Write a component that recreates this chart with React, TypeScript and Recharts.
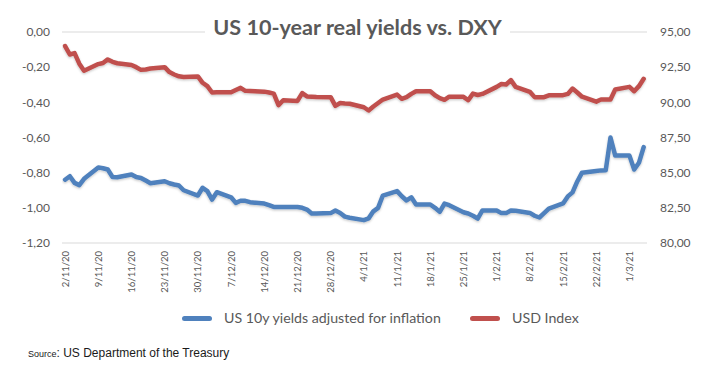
import React from 'react';
import { LineChart, Line, XAxis, YAxis, CartesianGrid } from 'recharts';

const dates = [
  '2/11/20', '3/11/20', '4/11/20', '5/11/20', '6/11/20',
  '9/11/20', '10/11/20', '11/11/20', '12/11/20', '13/11/20',
  '16/11/20', '17/11/20', '18/11/20', '19/11/20', '20/11/20',
  '23/11/20', '24/11/20', '25/11/20', '26/11/20', '27/11/20',
  '30/11/20', '1/12/20', '2/12/20', '3/12/20', '4/12/20',
  '7/12/20', '8/12/20', '9/12/20', '10/12/20', '11/12/20',
  '14/12/20', '15/12/20', '16/12/20', '17/12/20', '18/12/20',
  '21/12/20', '22/12/20', '23/12/20', '24/12/20', '25/12/20',
  '28/12/20', '29/12/20', '30/12/20', '31/12/20', '1/1/21',
  '4/1/21', '5/1/21', '6/1/21', '7/1/21', '8/1/21',
  '11/1/21', '12/1/21', '13/1/21', '14/1/21', '15/1/21',
  '18/1/21', '19/1/21', '20/1/21', '21/1/21', '22/1/21',
  '25/1/21', '26/1/21', '27/1/21', '28/1/21', '29/1/21',
  '1/2/21', '2/2/21', '3/2/21', '4/2/21', '5/2/21',
  '8/2/21', '9/2/21', '10/2/21', '11/2/21', '12/2/21',
  '15/2/21', '16/2/21', '17/2/21', '18/2/21', '19/2/21',
  '22/2/21', '23/2/21', '24/2/21', '25/2/21', '26/2/21',
  '1/3/21', '2/3/21', '3/3/21', '4/3/21',
];

const realYields = [
  -0.84, -0.82, -0.858, -0.871, -0.835,
  -0.77, -0.775, -0.782, -0.825, -0.826,
  -0.81, -0.825, -0.83, -0.845, -0.86,
  -0.849, -0.86, -0.867, -0.873, -0.9,
  -0.93, -0.886, -0.905, -0.953, -0.911,
  -0.94, -0.972, -0.96, -0.96, -0.968,
  -0.976, -0.985, -0.995, -0.995, -0.995,
  -0.995, -1.0, -1.01, -1.032, -1.032,
  -1.03, -1.015, -1.029, -1.05, -1.056,
  -1.07, -1.06, -1.02, -1.0, -0.93,
  -0.905, -0.934, -0.958, -0.94, -0.981,
  -0.981, -1.0, -1.023, -0.976, -0.985,
  -1.025, -1.032, -1.045, -1.061, -1.015,
  -1.015, -1.03, -1.03, -1.015, -1.017,
  -1.029, -1.045, -1.055, -1.03, -1.004,
  -0.975, -0.935, -0.912, -0.85, -0.8,
  -0.79, -0.787, -0.786, -0.6, -0.703,
  -0.703, -0.782, -0.744, -0.655,
];

const usdIndex = [
  94.0, 93.4, 93.5, 92.75, 92.25,
  92.72, 92.8, 93.05, 92.88, 92.78,
  92.65, 92.5, 92.31, 92.33, 92.4,
  92.5, 92.15, 91.98, 91.85, 91.8,
  91.84, 91.39, 91.15, 90.7, 90.72,
  90.72, 90.88, 91.03, 90.82, 90.8,
  90.76, 90.7, 90.62, 89.8, 90.15,
  90.1, 90.66, 90.42, 90.4, 90.38,
  90.37, 89.75, 89.95, 89.92, 89.9,
  89.65, 89.42, 89.7, 89.95, 90.2,
  90.55, 90.25, 90.37, 90.6, 90.79,
  90.79, 90.5, 90.3, 90.18, 90.4,
  90.39, 90.15, 90.62, 90.52, 90.6,
  91.1, 91.3, 91.27, 91.58, 91.1,
  90.75, 90.37, 90.37, 90.37, 90.5,
  90.51, 90.6, 90.98, 90.7, 90.4,
  90.05, 90.2, 90.2, 90.2, 90.91,
  91.1, 90.79, 91.15, 91.67,
];

const tickLabels = [
  '2/11/20', '9/11/20', '16/11/20', '23/11/20', '30/11/20', '7/12/20',
  '14/12/20', '21/12/20', '28/12/20', '4/1/21', '11/1/21', '18/1/21',
  '25/1/21', '1/2/21', '8/2/21', '15/2/21', '22/2/21', '1/3/21',
];

const leftTicks = [0, -0.2, -0.4, -0.6, -0.8, -1.0, -1.2];
const rightTicks = [95, 92.5, 90, 87.5, 85, 82.5, 80];

const seriesNames = ['US 10y yields adjusted for inflation', 'USD Index'];
const colors = ['#4F81BD', '#C0504D'];

const toDay = (s: string) => {
  const [d, m, y] = s.split('/').map(Number);
  return Date.UTC(2000 + y, m - 1, d) / 86400000;
};
const day0 = toDay(dates[0]);
const data = dates.map((d, i) => ({
  t: toDay(d) - day0,
  yields: realYields[i],
  usd: usdIndex[i],
}));
const tickDays = tickLabels.map((s) => toDay(s) - day0);
const labelByDay: Record<number, string> = {};
tickLabels.forEach((s, i) => (labelByDay[tickDays[i]] = s));

const fmt = (v: number) => (Math.abs(v) < 1e-9 ? 0 : v).toFixed(2).replace('.', ',');

const FONT = 'Lato, "Open Sans", sans-serif';
const GREY = '#595959';

const DateTick = (props: any) => {
  const { x, y, payload } = props;
  return (
    <text
      x={x}
      y={y}
      transform={`rotate(-90 ${x} ${y})`}
      textAnchor="end"
      dominantBaseline="central"
      fontSize={9.5}
      fontFamily={FONT}
      fill={GREY}
    >
      {labelByDay[payload.value]}
    </text>
  );
};

export default function App() {
  const domain: [number, number] = [-0.65, 122.7];
  return (
    <div style={{ position: 'absolute', left: 0, top: 0, width: 715, height: 372, background: '#fff' }}>
      <svg width={0} height={0} style={{ position: 'absolute' }}>
        <defs>
          <filter id="lineShadow" x="-5%" y="-20%" width="110%" height="140%">
            <feDropShadow dx="0" dy="1.2" stdDeviation="0.9" floodColor="#000" floodOpacity="0.22" />
          </filter>
        </defs>
      </svg>
      <LineChart
        width={715}
        height={372}
        data={data}
        margin={{ top: 32, right: 0, bottom: 0, left: 0 }}
      >
        <CartesianGrid horizontal vertical={false} stroke="#d9d9d9" strokeWidth={1} />
        <XAxis
          dataKey="t"
          type="number"
          domain={domain}
          ticks={tickDays}
          interval={0}
          height={129}
          axisLine={false}
          tickLine={false}
          tickSize={0}
          tickMargin={8}
          tick={<DateTick />}
          allowDataOverflow
        />
        <XAxis
          xAxisId="top"
          orientation="top"
          dataKey="t"
          type="number"
          domain={domain}
          ticks={tickDays}
          interval={0}
          height={0}
          axisLine={{ stroke: '#d9d9d9' }}
          tickLine={{ stroke: '#d9d9d9' }}
          tickSize={4}
          tick={false}
          allowDataOverflow
        />
        <YAxis
          yAxisId="left"
          orientation="left"
          domain={[-1.2, 0]}
          ticks={leftTicks}
          interval={0}
          width={62}
          axisLine={false}
          tickLine={false}
          tickSize={6}
          tickMargin={6}
          tickFormatter={fmt}
          tick={{ fill: GREY, fontSize: 12, fontFamily: FONT }}
        />
        <YAxis
          yAxisId="right"
          orientation="right"
          domain={[80, 95]}
          ticks={rightTicks}
          interval={0}
          width={68}
          axisLine={false}
          tickLine={false}
          tickSize={6}
          tickMargin={7}
          tickFormatter={fmt}
          tick={{ fill: GREY, fontSize: 12, fontFamily: FONT }}
        />
        <Line
          yAxisId="left"
          dataKey="yields"
          name={seriesNames[0]}
          stroke={colors[0]}
          strokeWidth={4.5}
          strokeLinejoin="round"
          strokeLinecap="round"
          filter="url(#lineShadow)"
          dot={false}
          activeDot={false}
          type="linear"
          isAnimationActive={false}
        />
        <Line
          xAxisId="top"
          yAxisId="right"
          dataKey="usd"
          name={seriesNames[1]}
          stroke={colors[1]}
          strokeWidth={4.5}
          strokeLinejoin="round"
          strokeLinecap="round"
          filter="url(#lineShadow)"
          dot={false}
          activeDot={false}
          type="linear"
          isAnimationActive={false}
        />
      </LineChart>

      <div
        style={{
          position: 'absolute',
          left: 0,
          top: 15,
          width: 715,
          textAlign: 'center',
          fontFamily: FONT,
          fontWeight: 700,
          fontSize: 21.6,
          lineHeight: '25px',
          color: GREY,
        }}
      >
        <span style={{ background: '#fff', padding: '0 8px' }}>US 10-year real yields vs. DXY</span>
      </div>

      {[
        { x: 182, tx: 224, name: seriesNames[0], color: colors[0] },
        { x: 470, tx: 512, name: seriesNames[1], color: colors[1] },
      ].map((it) => (
        <React.Fragment key={it.name}>
          <div
            style={{
              position: 'absolute',
              left: it.x,
              top: 316,
              width: 30,
              height: 5,
              borderRadius: 3,
              background: it.color,
            }}
          />
          <div
            style={{
              position: 'absolute',
              left: it.tx,
              top: 309,
              fontFamily: FONT,
              fontSize: 14.2,
              lineHeight: '18px',
              color: GREY,
              whiteSpace: 'nowrap',
            }}
          >
            {it.name}
          </div>
        </React.Fragment>
      ))}

      <div
        style={{
          position: 'absolute',
          left: 28,
          top: 344,
          fontFamily: '"Liberation Sans", Arial, sans-serif',
          color: '#1a1a1a',
          whiteSpace: 'nowrap',
          lineHeight: '16px',
        }}
      >
        <span style={{ fontSize: 9 }}>Source</span>
        <span style={{ fontSize: 12 }}>: US Department of the Treasury</span>
      </div>
    </div>
  );
}
